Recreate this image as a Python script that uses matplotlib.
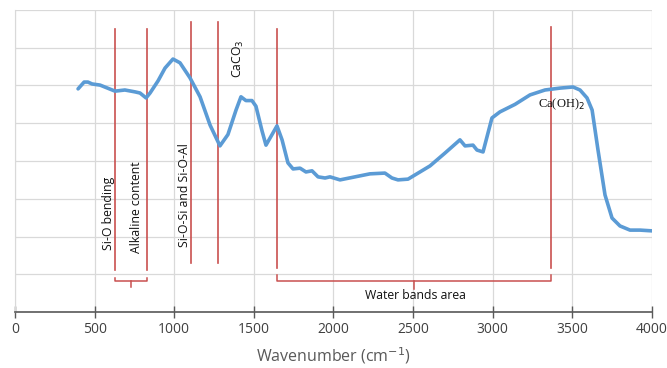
import matplotlib
matplotlib.use("Agg")
import matplotlib.pyplot as plt

# spectrum (wavenumber, relative transmittance)
wavenumber = [396, 434, 458, 484, 534, 628, 690, 754, 785, 823, 848, 898, 942, 992,
              1036, 1099, 1162, 1225, 1287, 1337, 1388, 1419, 1450, 1488, 1513, 1551,
              1576, 1614, 1645, 1677, 1714, 1746, 1790, 1827, 1865, 1903, 1947, 1978,
              2041, 2135, 2229, 2323, 2367, 2405, 2468, 2543, 2606, 2700, 2794, 2826,
              2876, 2901, 2939, 2995, 3045, 3140, 3234, 3328, 3422, 3504, 3548, 3592,
              3624, 3661, 3705, 3749, 3799, 3862, 3925, 4000]
signal = [5.91, 6.09, 6.09, 6.04, 6.01, 5.85, 5.88, 5.83, 5.80, 5.67, 5.80, 6.12, 6.46, 6.70,
          6.60, 6.20, 5.70, 4.95, 4.40, 4.70, 5.35, 5.70, 5.60, 5.60, 5.45, 4.80,
          4.42, 4.70, 4.93, 4.56, 3.95, 3.79, 3.81, 3.71, 3.74, 3.58, 3.55, 3.58,
          3.50, 3.58, 3.66, 3.68, 3.55, 3.50, 3.52, 3.71, 3.87, 4.21, 4.56, 4.40,
          4.42, 4.29, 4.24, 5.14, 5.30, 5.50, 5.75, 5.88, 5.93, 5.96, 5.88, 5.67,
          5.35, 4.29, 3.10, 2.49, 2.28, 2.17, 2.17, 2.15]

# band markers: position, bottom, top
band_x = [628, 829, 1105, 1275, 1645, 3366]
band_lo = [1.11, 1.11, 1.30, 1.30, 1.17, 1.17]
band_hi = [7.50, 7.50, 7.68, 7.68, 7.50, 7.55]

rot_labels = ["Si-O bending", "Alkaline content", "Si-O-Si and Si-O-Al", "CaCO$_3$"]
rot_x = [590, 765, 1063, 1400]
rot_y = [1.64, 1.56, 1.72, 6.20]

xticks = [0, 500, 1000, 1500, 2000, 2500, 3000, 3500, 4000]

red = "#C9504F"
fig = plt.figure(figsize=(6.67, 3.68), dpi=100)
ax = fig.add_axes([0.0225, 0.152, 0.955, 0.821])

ax.plot(wavenumber, signal, color="#5B9BD5", lw=2.6, solid_capstyle="round",
        solid_joinstyle="round", zorder=3)

for x, lo, hi in zip(band_x, band_lo, band_hi):
    ax.plot([x, x], [lo, hi], color=red, lw=1.2, zorder=2)

# brackets under the bands
br_y = 0.82
ax.plot([band_x[0], band_x[0], band_x[1], band_x[1]], [br_y + 0.08, br_y, br_y, br_y + 0.08],
        color=red, lw=1.1)
ax.plot([(band_x[0] + band_x[1]) / 2] * 2, [br_y, br_y - 0.15], color=red, lw=1.1)
ax.plot([band_x[4], band_x[4], band_x[5], band_x[5]], [br_y + 0.15, br_y, br_y, br_y + 0.15],
        color=red, lw=1.1)
ax.plot([2506, 2506], [br_y, br_y - 0.2], color=red, lw=1.1)

for lab, x, y in zip(rot_labels, rot_x, rot_y):
    ax.text(x, y, lab, rotation=90, ha="center", va="bottom", fontsize=8.8,
            family="Open Sans", color="#111111")
ax.text(3284, 5.5, "Ca(OH)$_2$", ha="left", va="center", fontsize=9,
        family="Liberation Serif", color="#111111")
ax.text(2512, 0.45, "Water bands area", ha="center", va="center", fontsize=8.8,
        family="Open Sans", color="#111111")

ax.set_xlim(0, 4000)
ax.set_ylim(0, 8)
ax.set_xticks(xticks)
ax.set_yticks(range(0, 9))
ax.set_yticklabels([])
ax.tick_params(axis="y", length=0)
ax.tick_params(axis="x", direction="inout", length=8, width=1, color="#595959",
               labelsize=10, labelcolor="#404040", pad=3)
for lbl in ax.get_xticklabels():
    lbl.set_family("Open Sans")
ax.grid(True, color="#D9D9D9", lw=0.9)
ax.set_axisbelow(True)
for s in ["top", "right"]:
    ax.spines[s].set_visible(False)
ax.spines["left"].set_color("#D9D9D9")
ax.spines["bottom"].set_color("#595959")
ax.spines["bottom"].set_linewidth(1.2)
ax.set_xlabel("Wavenumber (cm$^{-1}$)", fontsize=11.5, color="#595959",
              family="Open Sans", labelpad=6)

fig.savefig("out.png", dpi=100)
